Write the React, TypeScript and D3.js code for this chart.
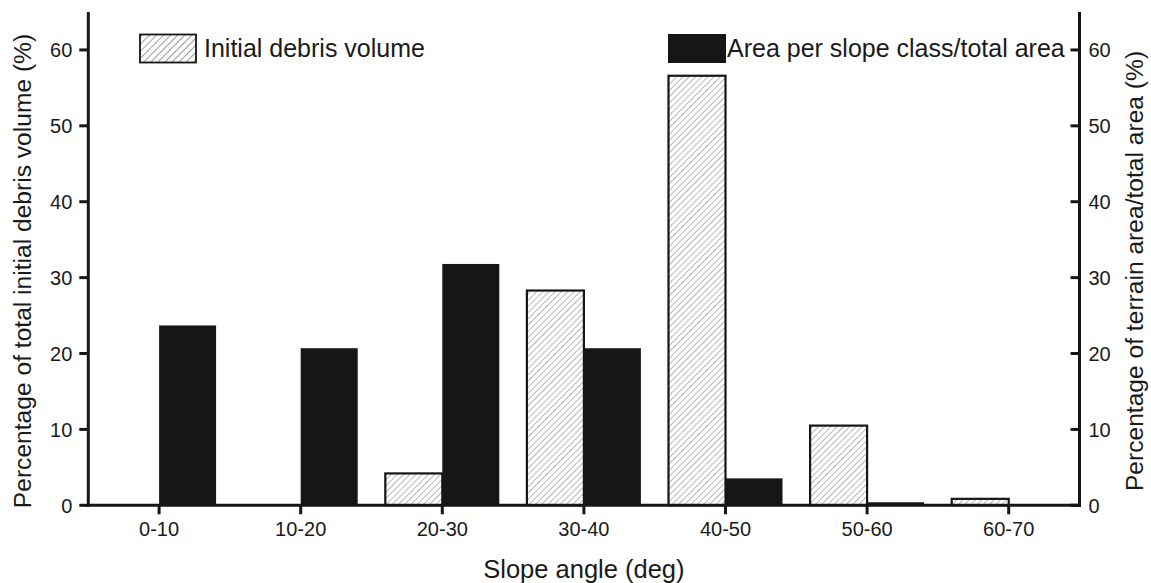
import React from "react";
import * as d3 from "d3";

// Slope classes and the two series plotted per class (percent)
const slopeClasses = ["0-10", "10-20", "20-30", "30-40", "40-50", "50-60", "60-70"];
const debrisVolume = [0, 0, 4.2, 28.3, 56.6, 10.5, 0.85];
const areaShare = [23.7, 20.7, 31.8, 20.7, 3.55, 0.4, 0];
const yTicks = [0, 10, 20, 30, 40, 50, 60];

const W = 1151;
const H = 583;
const FONT = "'Liberation Sans', Arial, Helvetica, sans-serif";
const INK = "#161616";

const plotLeft = 88.3;
const plotRight = 1079.5;
const plotTop = 12;
const plotBottom = 505.3;

export default function App() {
  const x = d3.scaleBand<string>().domain(slopeClasses).range([plotLeft, plotRight]).padding(0);
  const bw = x.bandwidth();
  const inner = d3
    .scaleBand<string>()
    .domain(["debris", "area"])
    .range([bw * 0.0975, bw * 0.9025])
    .padding(0);
  const y = d3.scaleLinear().domain([0, 65]).range([plotBottom, plotTop]);

  const tickLen = 9;
  const titleMid = 271;

  return (
    <svg
      width={W}
      height={H}
      style={{ position: "absolute", left: 0, top: 0, background: "#fff" }}
      fontFamily={FONT}
    >
      <defs>
        <pattern
          id="hatch"
          patternUnits="userSpaceOnUse"
          width={4.4}
          height={4.4}
          patternTransform="rotate(45)"
        >
          <line x1={0} y1={0} x2={0} y2={4.4} stroke="#808080" strokeWidth={1.1} />
        </pattern>
        <pattern
          id="hatchLegend"
          patternUnits="userSpaceOnUse"
          width={5}
          height={5}
          patternTransform="rotate(45)"
        >
          <line x1={0} y1={0} x2={0} y2={5} stroke="#4a4a4a" strokeWidth={1.1} />
        </pattern>
      </defs>

      {/* debris volume bars (hatched) */}
      {slopeClasses.map((c, i) =>
        debrisVolume[i] > 0 ? (
          <rect
            key={"d" + c}
            x={(x(c) as number) + (inner("debris") as number)}
            y={y(debrisVolume[i])}
            width={inner.bandwidth()}
            height={plotBottom - y(debrisVolume[i])}
            fill="url(#hatch)"
            stroke={INK}
            strokeWidth={2.2}
          />
        ) : null
      )}

      {/* terrain area bars (solid) */}
      {slopeClasses.map((c, i) =>
        areaShare[i] > 0 ? (
          <rect
            key={"a" + c}
            x={(x(c) as number) + (inner("area") as number)}
            y={y(areaShare[i])}
            width={inner.bandwidth()}
            height={plotBottom - y(areaShare[i])}
            fill={INK}
          />
        ) : null
      )}

      {/* axes */}
      <g stroke={INK} strokeWidth={3} fill="none">
        <line x1={plotLeft} y1={plotTop} x2={plotLeft} y2={plotBottom + 1.5} />
        <line x1={plotRight} y1={plotTop} x2={plotRight} y2={plotBottom + 1.5} />
        <line x1={plotLeft - 1.5} y1={plotBottom} x2={plotRight + 1.5} y2={plotBottom} />
        {yTicks.map((t) => (
          <g key={"t" + t}>
            <line x1={plotLeft - tickLen} y1={y(t)} x2={plotLeft} y2={y(t)} />
            <line x1={plotRight - tickLen} y1={y(t)} x2={plotRight} y2={y(t)} />
          </g>
        ))}
        {slopeClasses.map((c) => {
          const cx = (x(c) as number) + bw / 2;
          return <line key={"xt" + c} x1={cx} y1={plotBottom} x2={cx} y2={plotBottom + tickLen} />;
        })}
      </g>

      {/* tick labels */}
      <g fill="#1a1a1a" fontSize={20}>
        {yTicks.map((t) => (
          <text key={"ly" + t} x={plotLeft - 16} y={y(t)} dy="0.36em" textAnchor="end">
            {t}
          </text>
        ))}
        {yTicks.map((t) => (
          <text key={"ry" + t} x={plotRight + 9} y={y(t)} dy="0.36em" textAnchor="start">
            {t}
          </text>
        ))}
        {slopeClasses.map((c) => (
          <text
            key={"lx" + c}
            x={(x(c) as number) + bw / 2}
            y={plotBottom + 31}
            textAnchor="middle"
          >
            {c}
          </text>
        ))}
      </g>

      {/* axis titles */}
      <g fill="#1a1a1a" fontSize={24.6}>
        <text x={(x("30-40") as number) + bw / 2} y={578} textAnchor="middle" fontSize={25.5}>
          Slope angle (deg)
        </text>
        <text transform={`translate(31,${titleMid}) rotate(-90)`} textAnchor="middle">
          Percentage of total initial debris volume (%)
        </text>
        <text transform={`translate(1143,${titleMid}) rotate(-90)`} textAnchor="middle">
          Percentage of terrain area/total area (%)
        </text>
      </g>

      {/* legend */}
      <g fontSize={25} fill="#1a1a1a">
        <rect x={140} y={34.5} width={56} height={28} fill="url(#hatchLegend)" stroke={INK} strokeWidth={1.8} />
        <text x={204} y={57}>Initial debris volume</text>
        <rect x={668} y={34} width={58} height={29} fill={INK} />
        <text x={727} y={57}>Area per slope class/total area</text>
      </g>
    </svg>
  );
}
